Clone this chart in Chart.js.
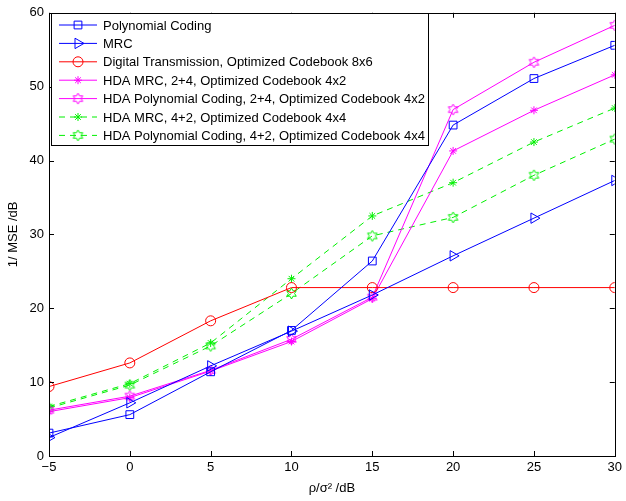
<!DOCTYPE html>
<html>
<head>
<meta charset="UTF-8">
<script src="https://cdn.jsdelivr.net/npm/chart.js"></script>
<style>
  body { margin: 0; background: #fff; }
  #wrap { width: 626px; height: 501px; }
</style>
</head>
<body>
<div id="wrap"><canvas id="c" width="626" height="501"></canvas></div>
<script>
// x values (rho/sigma^2 in dB)
const snr = [-5, 0, 5, 10, 15, 20, 25, 30];

const polyCoding   = [3.1, 5.6, 11.4, 17.0, 26.4, 44.8, 51.1, 55.6];
const mrc          = [2.5, 7.2, 12.2, 16.9, 21.8, 27.1, 32.2, 37.3];
const digitalTx    = [9.4, 12.6, 18.3, 22.8, 22.8, 22.8, 22.8, 22.8];
const hdaMrc24     = [6.0, 7.9, 11.5, 15.5, 21.3, 41.3, 46.8, 51.6];
const hdaPoly24    = [6.2, 8.1, 11.6, 15.8, 21.5, 46.9, 53.3, 58.3];
const hdaMrc42     = [6.7, 9.8, 15.3, 24.0, 32.5, 37.0, 42.5, 47.1];
const hdaPoly42    = [6.5, 9.6, 14.9, 22.0, 29.8, 32.3, 38.0, 42.9];

const xTicks = [-5, 0, 5, 10, 15, 20, 25, 30];
const yTicks = [0, 10, 20, 30, 40, 50, 60];

const BLUE = '#0000ff', RED = '#ff0000', MAG = '#ff00ff', GRN = '#00f000';

// hexagram marker (MATLAB 'h' style)
function hexagram(color) {
  const s = 13, c = document.createElement('canvas');
  c.width = s; c.height = s;
  const g = c.getContext('2d');
  g.strokeStyle = color; g.lineWidth = 1;
  const cx = s / 2, cy = s / 2, R = 5.5, r = 3.1;
  g.beginPath();
  for (let i = 0; i < 12; i++) {
    const a = -Math.PI / 2 + i * Math.PI / 6;
    const rr = i % 2 === 0 ? R : r;
    const x = cx + rr * Math.cos(a), y = cy + rr * Math.sin(a);
    if (i === 0) g.moveTo(x, y); else g.lineTo(x, y);
  }
  g.closePath(); g.stroke();
  return c;
}

function pts(arr) { return arr.map((v, i) => ({ x: snr[i], y: v })); }

function ds(label, data, color, style, extra) {
  return Object.assign({
    label: label,
    data: pts(data),
    borderColor: color,
    backgroundColor: 'rgba(0,0,0,0)',
    pointBorderColor: color,
    pointBackgroundColor: 'rgba(0,0,0,0)',
    borderWidth: 1,
    pointBorderWidth: 1,
    pointStyle: style,
    pointRadius: 5,
    tension: 0,
    fill: false
  }, extra || {});
}

const datasets = [
  ds('Polynomial Coding', polyCoding, BLUE, 'rect', { pointRadius: 5.5 }),
  ds('MRC', mrc, BLUE, 'triangle', { pointRotation: 90, pointRadius: 6 }),
  ds('Digital Transmission, Optimized Codebook 8x6', digitalTx, RED, 'circle', { pointRadius: 5 }),
  ds('HDA MRC, 2+4, Optimized Codebook 4x2', hdaMrc24, MAG, 'star', { pointRadius: 4 }),
  ds('HDA Polynomial Coding, 2+4, Optimized Codebook 4x2', hdaPoly24, MAG, hexagram(MAG)),
  ds('HDA MRC, 4+2, Optimized Codebook 4x4', hdaMrc42, GRN, 'star', { pointRadius: 4, borderDash: [6, 5] }),
  ds('HDA Polynomial Coding, 4+2, Optimized Codebook 4x4', hdaPoly42, GRN, hexagram(GRN), { borderDash: [6, 5] })
];

// box, inward ticks and legend drawn the MATLAB way
const matlabFrame = {
  id: 'matlabFrame',
  afterDatasetsDraw(chart) {
    const ctx = chart.ctx, a = chart.chartArea;
    const xs = chart.scales.x, ys = chart.scales.y;
    ctx.save();
    ctx.strokeStyle = '#000'; ctx.lineWidth = 1;
    ctx.strokeRect(Math.round(a.left) + 0.5, Math.round(a.top) + 0.5,
                   Math.round(a.right - a.left), Math.round(a.bottom - a.top));
    const L = 5;
    ctx.beginPath();
    xTicks.forEach(v => {
      const p = Math.round(xs.getPixelForValue(v)) + 0.5;
      ctx.moveTo(p, a.bottom); ctx.lineTo(p, a.bottom - L);
      ctx.moveTo(p, a.top); ctx.lineTo(p, a.top + L);
    });
    yTicks.forEach(v => {
      const p = Math.round(ys.getPixelForValue(v)) + 0.5;
      ctx.moveTo(a.left, p); ctx.lineTo(a.left + L, p);
      ctx.moveTo(a.right, p); ctx.lineTo(a.right - L, p);
    });
    ctx.stroke();

    // legend
    const bx = 51.5, by = 13.5, bw = 377, bh = 132;
    ctx.fillStyle = '#fff';
    ctx.fillRect(bx, by, bw, bh);
    ctx.strokeStyle = '#000';
    ctx.strokeRect(bx, by, bw, bh);
    ctx.font = '13px "Liberation Sans", Arial, sans-serif';
    ctx.textBaseline = 'middle';
    chart.data.datasets.forEach((d, i) => {
      const y = 25 + i * 18.4;
      ctx.strokeStyle = d.borderColor;
      ctx.lineWidth = 1;
      ctx.setLineDash(d.borderDash || []);
      ctx.beginPath(); ctx.moveTo(59, y); ctx.lineTo(97, y); ctx.stroke();
      ctx.setLineDash([]);
      const opts = { pointStyle: d.pointStyle, radius: d.pointRadius, rotation: d.pointRotation || 0, borderWidth: 1 };
      ctx.fillStyle = 'rgba(0,0,0,0)';
      Chart.helpers.drawPoint(ctx, opts, 78, y);
      ctx.fillStyle = '#000';
      ctx.fillText(d.label, 103, y + 1);
    });
    ctx.restore();
  }
};

new Chart(document.getElementById('c'), {
  type: 'line',
  data: { datasets: datasets },
  plugins: [matlabFrame],
  options: {
    responsive: false,
    animation: false,
    layout: { padding: { top: 9, right: 7, left: 0, bottom: 0 } },
    plugins: { legend: { display: false }, tooltip: { enabled: false } },
    scales: {
      x: {
        type: 'linear',
        min: -5, max: 30,
        grid: { display: false, drawTicks: false },
        border: { display: false },
        afterBuildTicks: s => { s.ticks = xTicks.map(v => ({ value: v })); },
        afterFit: s => { s.height = 45; },
        ticks: {
          color: '#000', padding: 4,
          font: { family: '"Liberation Sans", Arial, sans-serif', size: 13 },
          callback: v => (v < 0 ? '\u2212' + Math.abs(v) : String(v))
        },
        title: {
          display: true, text: '\u03c1/\u03c3\u00b2 /dB', color: '#000',
          font: { family: '"Liberation Sans", Arial, sans-serif', size: 13 },
          padding: { top: 0, bottom: 5 }
        }
      },
      y: {
        min: 0, max: 60,
        grid: { display: false, drawTicks: false },
        border: { display: false },
        afterBuildTicks: s => { s.ticks = yTicks.map(v => ({ value: v })); },
        afterFit: s => { s.width = 49; },
        ticks: {
          color: '#000', padding: 5,
          font: { family: '"Liberation Sans", Arial, sans-serif', size: 13 }
        },
        title: {
          display: true, text: '1/ MSE /dB', color: '#000',
          font: { family: '"Liberation Sans", Arial, sans-serif', size: 13 },
          padding: { top: 6, bottom: 0 }
        }
      }
    }
  }
});
</script>
</body>
</html>
